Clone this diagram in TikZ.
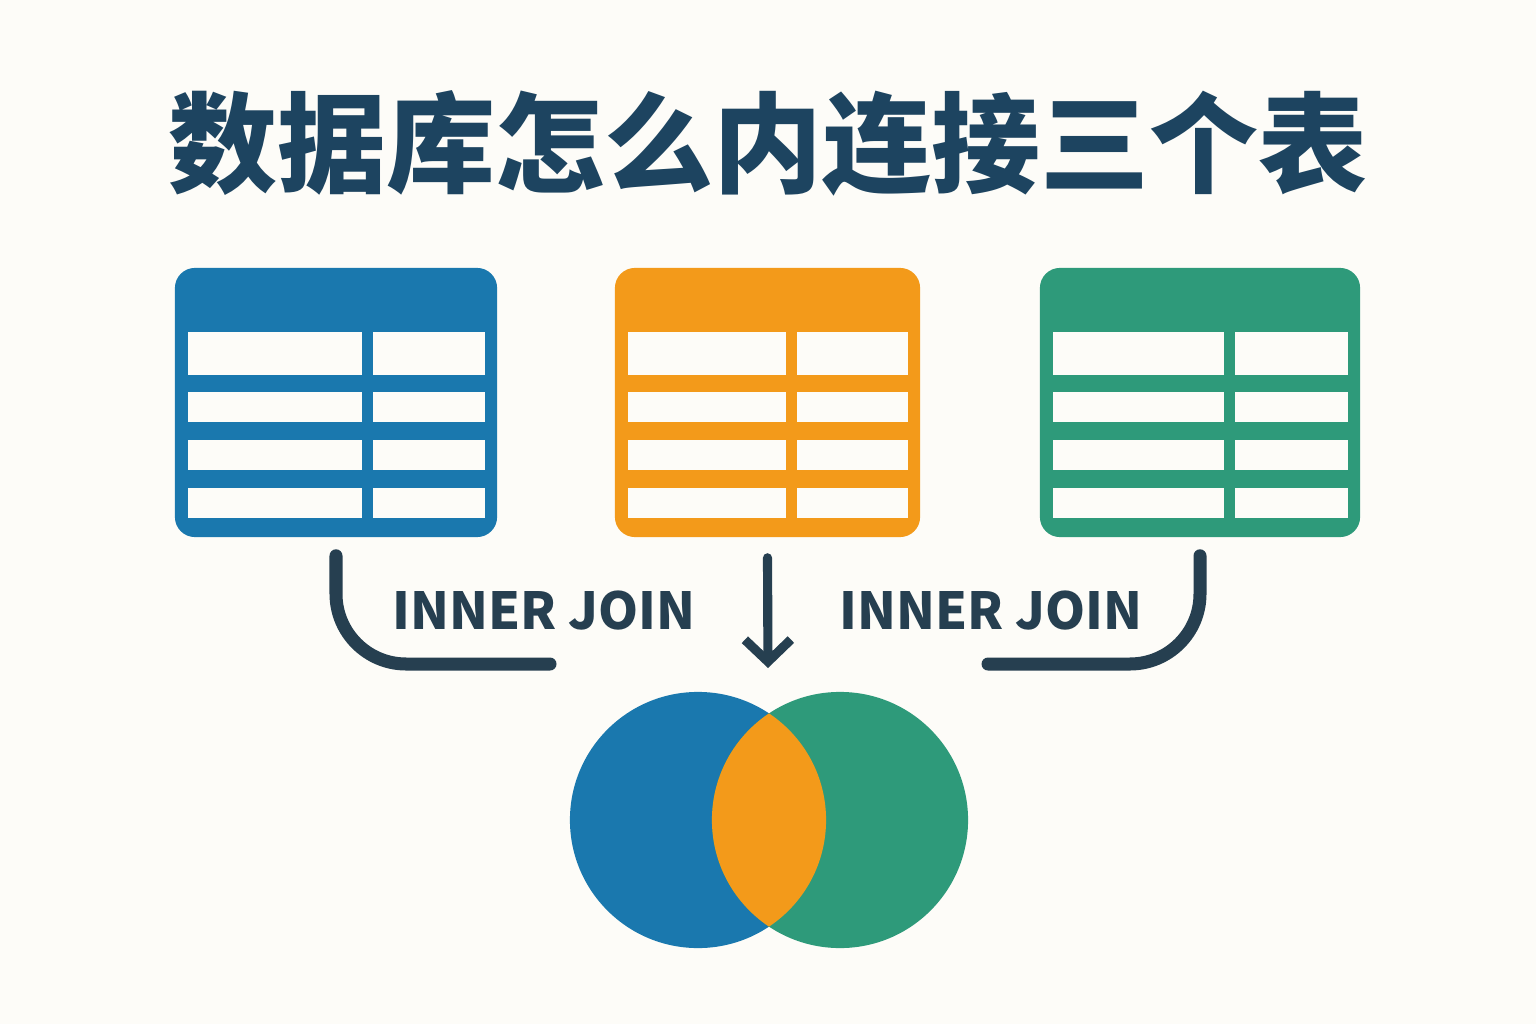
\documentclass[tikz,border=0pt]{standalone}
\usepackage{fontspec}
\setmainfont{Noto Sans}
\newfontfamily\cjk{Noto Sans CJK SC}
\usetikzlibrary{arrows.meta}
\definecolor{bgc}{HTML}{FDFCF8}
\definecolor{tblue}{HTML}{1A78AE}
\definecolor{torange}{HTML}{F39A1A}
\definecolor{tgreen}{HTML}{2E9A7A}
\definecolor{ink}{HTML}{263F50}
\definecolor{titleink}{HTML}{1D4460}
\begin{document}
\begin{tikzpicture}[x=0.01cm, y=-0.01cm, line join=round, line cap=round]
	\tikzset{tbl/.style={rounded corners=0.2cm, minimum height=2.69cm, inner sep=0pt},
		conn/.style={draw=ink, line width=3.7pt, rounded corners=0.7cm},
		lbl/.style={text=ink, font=\cjk\fontsize{14.5}{15}\selectfont\bfseries, inner sep=0pt}}
	\fill[bgc] (0,0) rectangle (1536,1024);
	% title
	\node[text=titleink, font=\cjk\fontsize{31}{31}\selectfont\bfseries] (title) at (768,143) {数据库怎么内连接三个表};
	% tables
	\node[tbl, fill=tblue, minimum width=3.22cm] (tA) at (336,402.5) {};
	\node[tbl, fill=torange, minimum width=3.05cm] (tB) at (767.5,402.5) {};
	\node[tbl, fill=tgreen, minimum width=3.20cm] (tC) at (1200,402.5) {};
	\foreach \x/\w/\s in {175/322/187, 615/305/171, 1040/320/184}
		\foreach \a/\b in {332/375, 392/422, 440/470, 488/518} {
			\fill[bgc] (\x+13,\a) rectangle (\x+\s,\b);
			\fill[bgc] (\x+\s+11,\a) rectangle (\x+\w-12,\b);
		}
	% joins
	\coordinate (jA) at (550,664);
	\coordinate (jC) at (988,664);
	\coordinate (jB) at (768,668);
	\draw[conn] ([yshift=-0.18cm]tA.south) |- (jA);
	\draw[conn] ([yshift=-0.18cm]tC.south) |- (jC);
	\draw[draw=ink, line width=2.6pt, -{Straight Barb[length=0.22cm, width=0.46cm]}] ([yshift=-0.2cm]tB.south) -- (jB);
	\node[lbl] (lA) at (544,611) {INNER JOIN};
	\node[lbl] (lC) at (991,611) {INNER JOIN};
	% venn
	\fill[tblue] (698,820) circle[radius=1.28cm];
	\fill[tgreen] (840,820) circle[radius=1.28cm];
	\begin{scope}
		\clip (698,820) circle[radius=1.28cm];
		\fill[torange] (840,820) circle[radius=1.28cm];
	\end{scope}
\end{tikzpicture}
\end{document}
